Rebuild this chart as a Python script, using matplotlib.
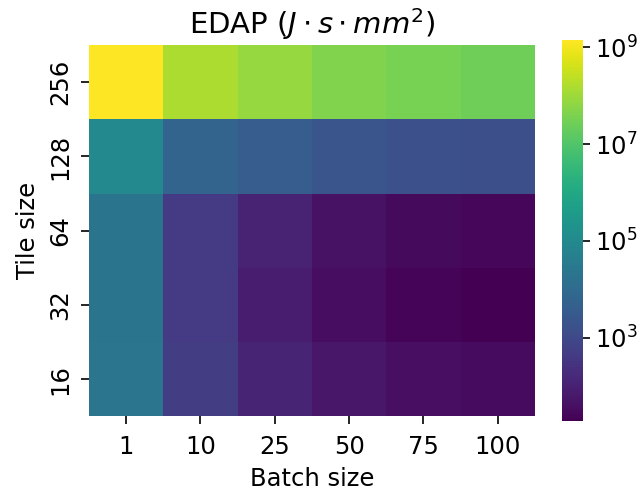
#!/usr/bin/env python3
"""EDAP heatmap over tile size and batch size."""

import matplotlib

matplotlib.use("Agg")
import matplotlib.pyplot as plt  # noqa: I001
import numpy as np
import seaborn as sns
from matplotlib.colors import LogNorm
from matplotlib.ticker import LogFormatterSciNotation, NullLocator

batch_sizes = [1, 10, 25, 50, 75, 100]
tile_sizes = [256, 128, 64, 32, 16]

# EDAP values (J*s*mm^2), one list per tile size, columns follow batch_sizes
edap_256 = [1.4e9, 1.5e8, 7.8e7, 4.5e7, 3.4e7, 2.6e7]
edap_128 = [9.3e4, 6.2e3, 3.6e3, 2.3e3, 1.6e3, 1.45e3]
edap_64 = [2.0e4, 450, 105, 44, 31, 27]
edap_32 = [2.0e4, 450, 80, 34, 23, 19]
edap_16 = [2.1e4, 460, 118, 55, 38, 32]

VMIN = 19
VMAX = 1.4e9


def main() -> int:
    data = np.array([edap_256, edap_128, edap_64, edap_32, edap_16])

    figure = plt.figure(figsize=(6.44, 4.94), dpi=100)
    axis = figure.add_axes([0.1382, 0.1569, 0.6925, 0.752])
    cbar_axis = figure.add_axes([0.8727, 0.1478, 0.0326, 0.771])

    sns.heatmap(
        data,
        ax=axis,
        cbar_ax=cbar_axis,
        cmap="viridis",
        norm=LogNorm(vmin=VMIN, vmax=VMAX),
        xticklabels=batch_sizes,
        yticklabels=tile_sizes,
    )

    axis.set_title(r"EDAP ($J \cdot s \cdot mm^2$)", fontsize=21, pad=8)
    axis.set_xlabel("Batch size", fontsize=17.5, labelpad=6)
    axis.set_ylabel("Tile size", fontsize=17.5, labelpad=6)
    axis.tick_params(axis="both", labelsize=17.5, length=6, width=1.2)
    axis.tick_params(axis="x", pad=7)
    axis.tick_params(axis="y", pad=6)
    plt.setp(axis.get_xticklabels(), rotation=0)
    plt.setp(axis.get_yticklabels(), rotation=90, va="center")

    cbar_axis.set_yticks([1e3, 1e5, 1e7, 1e9])
    cbar_axis.yaxis.set_major_formatter(LogFormatterSciNotation())
    cbar_axis.yaxis.set_minor_locator(NullLocator())
    cbar_axis.tick_params(labelsize=17.5, length=5, width=1.2)

    figure.savefig("out.png", dpi=100)
    plt.close(figure)
    return 0


if __name__ == "__main__":
    raise SystemExit(main())
